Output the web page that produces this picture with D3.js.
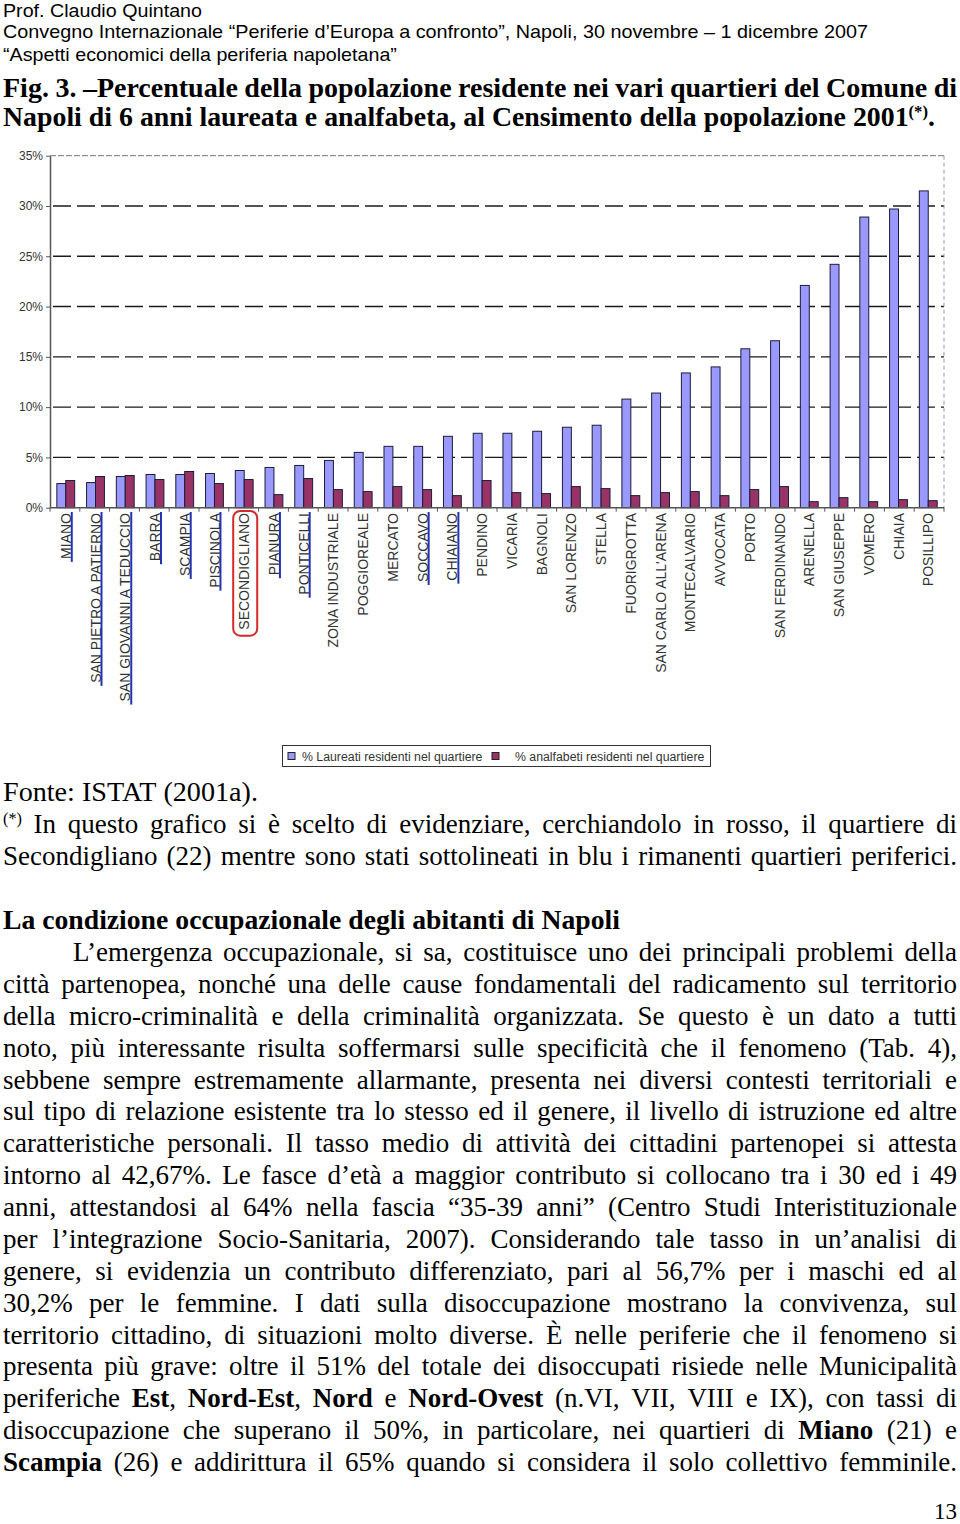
<!DOCTYPE html>
<html><head><meta charset="utf-8">
<script src="https://cdn.jsdelivr.net/npm/d3@7"></script>
<style>body{margin:0;background:#fff} svg{display:block}</style>
</head><body>
<script>
// ---------------- DATA ----------------
const categories = ["MIANO","SAN PIETRO A PATIERNO","SAN GIOVANNI A TEDUCCIO","BARRA","SCAMPIA","PISCINOLA","SECONDIGLIANO","PIANURA","PONTICELLI","ZONA INDUSTRIALE","POGGIOREALE","MERCATO","SOCCAVO","CHIAIANO","PENDINO","VICARIA","BAGNOLI","SAN LORENZO","STELLA","FUORIGROTTA","SAN CARLO ALL'ARENA","MONTECALVARIO","AVVOCATA","PORTO","SAN FERDINANDO","ARENELLA","SAN GIUSEPPE","VOMERO","CHIAIA","POSILLIPO"];
const laureati   = [2.4,2.5,3.1,3.3,3.3,3.4,3.7,4.0,4.2,4.7,5.5,6.1,6.1,7.1,7.4,7.4,7.6,8.0,8.2,10.8,11.4,13.4,14.0,15.8,16.6,22.1,24.2,28.9,29.7,31.5];
const analfabeti = [2.7,3.1,3.2,2.8,3.6,2.4,2.8,1.3,2.9,1.8,1.6,2.1,1.8,1.2,2.7,1.5,1.4,2.1,1.9,1.2,1.5,1.6,1.2,1.8,2.1,0.6,1.0,0.6,0.8,0.7];
const seriesNames = ["% Laureati residenti nel quartiere","% analfabeti residenti nel quartiere"];
const yTicks = [0,5,10,15,20,25,30,35];
const underlined = ["MIANO","SAN PIETRO A PATIERNO","SAN GIOVANNI A TEDUCCIO","BARRA","SCAMPIA","PISCINOLA","PIANURA","PONTICELLI","SOCCAVO","CHIAIANO"];
const circled = ["SECONDIGLIANO"];

const headerLines = ["Prof. Claudio Quintano",
  "Convegno Internazionale “Periferie d’Europa a confronto”, Napoli, 30 novembre – 1 dicembre 2007",
  "“Aspetti economici della periferia napoletana”"];
const titleLines = ["Fig. 3. –Percentuale della popolazione residente nei vari quartieri del Comune di",
  "Napoli di 6 anni laureata e analfabeta, al Censimento della popolazione 2001^(*)^."];
const sourceLine = "Fonte: ISTAT (2001a).";
const noteLines = ["^(*)^ In questo grafico si è scelto di evidenziare, cerchiandolo in rosso, il quartiere di",
  "Secondigliano (22) mentre sono stati sottolineati in blu i rimanenti quartieri periferici."];
const headingLine = "La condizione occupazionale degli abitanti di Napoli";
const bodyLines = [
 "L’emergenza occupazionale, si sa, costituisce uno dei principali problemi della",
 "città partenopea, nonché una delle cause fondamentali del radicamento sul territorio",
 "della micro-criminalità e della criminalità organizzata. Se questo è un dato a tutti",
 "noto, più interessante risulta soffermarsi sulle specificità che il fenomeno (Tab. 4),",
 "sebbene sempre estremamente allarmante, presenta nei diversi contesti territoriali e",
 "sul tipo di relazione esistente tra lo stesso ed il genere, il livello di istruzione ed altre",
 "caratteristiche personali. Il tasso medio di attività dei cittadini partenopei si attesta",
 "intorno al 42,67%. Le fasce d’età a maggior contributo si collocano tra i 30 ed i 49",
 "anni, attestandosi al 64% nella fascia “35-39 anni” (Centro Studi Interistituzionale",
 "per l’integrazione Socio-Sanitaria, 2007). Considerando tale tasso in un’analisi di",
 "genere, si evidenzia un contributo differenziato, pari al 56,7% per i maschi ed al",
 "30,2% per le femmine. I dati sulla disoccupazione mostrano la convivenza, sul",
 "territorio cittadino, di situazioni molto diverse. È nelle periferie che il fenomeno si",
 "presenta più grave: oltre il 51% del totale dei disoccupati risiede nelle Municipalità",
 "periferiche **Est**, **Nord-Est**, **Nord** e **Nord-Ovest** (n.VI, VII, VIII e IX), con tassi di",
 "disoccupazione che superano il 50%, in particolare, nei quartieri di **Miano** (21) e",
 "**Scampia** (26) e addirittura il 65% quando si considera il solo collettivo femminile."];
const pageNumber = "13";

// ---------------- SETUP ----------------
const SANS = "'Liberation Sans', Arial, sans-serif";
const SERIF = "'Liberation Serif', 'Times New Roman', serif";
const svg = d3.select("body").append("svg").attr("width",960).attr("height",1524);
const measurer = svg.append("text").attr("x",-2000).attr("y",-2000);
function mw(t,size,bold,family){
  measurer.attr("font-family",family).attr("font-size",size).attr("font-weight",bold?"bold":"normal").text(t);
  return measurer.node().getComputedTextLength();
}
function parseLine(s){
  const pieces=[]; let b=false, sup=false, cur="";
  for(let i=0;i<s.length;i++){
    if(s.startsWith("**",i)){ if(cur)pieces.push({t:cur,b,sup}); cur=""; b=!b; i++; continue; }
    if(s[i]==="^"){ if(cur)pieces.push({t:cur,b,sup}); cur=""; sup=!sup; continue; }
    cur+=s[i];
  }
  if(cur)pieces.push({t:cur,b,sup});
  const tokens=[]; let tok=[];
  pieces.forEach(p=>{
    p.t.split(" ").forEach((part,j)=>{
      if(j>0){ if(tok.length)tokens.push(tok); tok=[]; }
      if(part)tok.push({t:part,b:p.b,sup:p.sup});
    });
  });
  if(tok.length)tokens.push(tok);
  return tokens;
}
function drawLine(s,o){
  const tokens=parseLine(s);
  const bold=!!o.bold, fam=o.family, size=o.size;
  const sp=mw("a a",size,bold,fam)-mw("aa",size,bold,fam);
  const widths=tokens.map(tok=>d3.sum(tok,p=>mw(p.t,p.sup?size*0.6:size,p.b||bold,fam)));
  const sumW=d3.sum(widths), n=tokens.length;
  let gap=sp, sx=1;
  if(o.mode==="justify" && n>1){
    gap=(o.width-sumW)/(n-1);
    if(gap<sp*0.8){ gap=sp*0.8; sx=o.width/(sumW+(n-1)*gap); }
  } else if(o.mode==="fit"){ sx=o.width/(sumW+(n-1)*sp); }
  const g=svg.append("g").attr("transform",`translate(${o.x0},${o.y}) scale(${sx},1)`);
  let x=0;
  tokens.forEach((tok,i)=>{
    const t=g.append("text").attr("x",x).attr("y",0).attr("font-family",fam).attr("font-size",size)
      .attr("font-weight",bold?"bold":"normal").attr("fill",o.fill||"#000");
    let prevSup=false;
    tok.forEach(p=>{
      const ts=t.append("tspan").text(p.t);
      if(p.b) ts.attr("font-weight","bold");
      if(p.sup){ ts.attr("font-size",size*0.6); if(!prevSup) ts.attr("dy",-size*0.33); }
      else if(prevSup){ ts.attr("dy",size*0.33); }
      prevSup=p.sup;
    });
    x+=widths[i]+gap;
  });
}

// ---------------- PAGE TEXT ----------------
const headerY=[16.5,38,61], headerW=[199,865,394];
headerLines.forEach((l,i)=>drawLine(l,{x0:3,y:headerY[i],size:17.5,family:SANS,mode:"fit",width:headerW[i]}));
drawLine(titleLines[0],{x0:3,y:97,size:28,family:SERIF,bold:true,mode:"justify",width:954});
drawLine(titleLines[1],{x0:3,y:126,size:28,family:SERIF,bold:true,mode:"fit",width:932});

drawLine(sourceLine,{x0:3,y:801,size:27,family:SERIF,mode:"fit",width:255});
drawLine(noteLines[0],{x0:3,y:833,size:27,family:SERIF,mode:"justify",width:954});
drawLine(noteLines[1],{x0:3,y:865,size:27,family:SERIF,mode:"justify",width:954});
drawLine(headingLine,{x0:3,y:929,size:27,family:SERIF,bold:true,mode:"fit",width:617});
bodyLines.forEach((l,i)=>{
  const x0=i===0?73:3;
  drawLine(l,{x0,y:961+31.875*i,size:27,family:SERIF,mode:"justify",width:957-x0});
});
svg.append("text").attr("x",957).attr("y",1519).attr("text-anchor","end")
  .attr("font-family",SERIF).attr("font-size",23).text(pageNumber);

// ---------------- CHART ----------------
const y=d3.scaleLinear().domain([0,35]).range([507.7,155.7]);
const x0=d3.scaleBand().domain(categories).range([50,944]).paddingInner(0.4).paddingOuter(0.23);
const x1=d3.scaleBand().domain([0,1]).range([0,x0.bandwidth()]);
const colors=["#9999FF","#993366"];
const chart=svg.append("g");

// gridlines
chart.append("g").selectAll("line").data(yTicks.filter(d=>d>0&&d<35)).join("line")
  .attr("x1",50).attr("x2",944).attr("y1",d=>y(d)).attr("y2",d=>y(d))
  .attr("stroke","#1a1a1a").attr("stroke-width",1.4).attr("stroke-dasharray","18,6").attr("stroke-dashoffset",21);
// plot border top/right
chart.append("line").attr("x1",50).attr("x2",944).attr("y1",y(35)).attr("y2",y(35))
  .attr("stroke","#777").attr("stroke-width",1).attr("stroke-dasharray","6,2");
chart.append("line").attr("x1",944).attr("x2",944).attr("y1",y(35)).attr("y2",y(0))
  .attr("stroke","#999").attr("stroke-width",1).attr("stroke-dasharray","4,3");

// bars
const groups=chart.append("g").selectAll("g").data(categories).join("g")
  .attr("transform",d=>`translate(${x0(d)},0)`);
groups.selectAll("rect").data((d,i)=>[laureati[i],analfabeti[i]]).join("rect")
  .attr("x",(d,j)=>x1(j)).attr("width",x1.bandwidth())
  .attr("y",d=>y(d)).attr("height",d=>y(0)-y(d))
  .attr("fill",(d,j)=>colors[j]).attr("stroke","#1c1c3a").attr("stroke-width",1);

// y axis
const yAxis=chart.append("g").attr("transform","translate(50,0)")
  .call(d3.axisLeft(y).tickValues(yTicks).tickFormat(d=>d+"%").tickSize(4).tickSizeOuter(0));
yAxis.select(".domain").attr("stroke","#555").attr("stroke-width",1.5);
yAxis.selectAll(".tick line").attr("stroke","#555");
yAxis.selectAll(".tick text").attr("font-family",SANS).attr("font-size",12).attr("fill","#333").attr("x",-7);

// x axis
chart.append("line").attr("x1",50).attr("x2",944).attr("y1",y(0)).attr("y2",y(0)).attr("stroke","#555").attr("stroke-width",1.5);
chart.append("g").selectAll("line").data(d3.range(categories.length+1)).join("line")
  .attr("x1",i=>50+i*(894/categories.length)).attr("x2",i=>50+i*(894/categories.length))
  .attr("y1",y(0)).attr("y2",y(0)+4).attr("stroke","#555").attr("stroke-width",1);

const labels=chart.append("g").selectAll("g").data(categories).join("g")
  .attr("transform",d=>`translate(${x0(d)+x0.bandwidth()/2},513)`);
labels.append("text").attr("transform","rotate(-90)").attr("text-anchor","end").attr("dy","0.36em")
  .attr("font-family",SANS).attr("font-size",14).attr("fill","#333").text(d=>d)
  .each(function(d){ d3.select(this.parentNode).attr("data-len",this.getComputedTextLength()); });
labels.filter(d=>underlined.includes(d)).append("line")
  .attr("x1",6).attr("x2",6).attr("y1",-1)
  .attr("y2",function(){ return +this.parentNode.getAttribute("data-len")+3; })
  .attr("stroke","#2234b0").attr("stroke-width",2);
labels.filter(d=>circled.includes(d)).append("rect")
  .attr("x",-11).attr("y",-2).attr("width",24)
  .attr("height",function(){ return +this.parentNode.getAttribute("data-len")+8; })
  .attr("rx",7).attr("fill","none").attr("stroke","#d42a2a").attr("stroke-width",2);

// legend
const lg=chart.append("g");
lg.append("rect").attr("x",282.5).attr("y",745.5).attr("width",428).attr("height",21)
  .attr("fill","#fff").attr("stroke","#333").attr("stroke-width",1);
const lgX=[288,492], lgT=[302,515];
seriesNames.forEach((s,i)=>{
  lg.append("rect").attr("x",lgX[i]).attr("y",752.5).attr("width",7).attr("height",7)
    .attr("fill",colors[i]).attr("stroke","#222").attr("stroke-width",1);
  lg.append("text").attr("x",lgT[i]).attr("y",760.5).attr("font-family",SANS).attr("font-size",12.3)
    .attr("fill","#333").text(s);
});
measurer.remove();
</script>
</body></html>
